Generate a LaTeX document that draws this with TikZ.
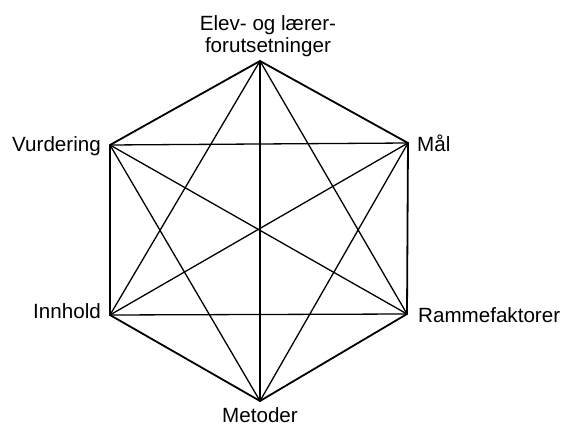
\documentclass[tikz,border=0pt]{standalone}
\usepackage{fontspec}
\setmainfont{Liberation Sans}
\begin{document}
\begin{tikzpicture}[x=1pt,y=-1pt,
  lbl/.style={inner sep=0pt,font=\fontsize{20.6}{22}\selectfont},
  rim/.style={line width=1.8pt,line join=miter},
  diag/.style={line width=1.3pt}]
\useasboundingbox (0,0) rectangle (563,425);
\coordinate (v1) at (260,61);
\coordinate (v2) at (408,143);
\coordinate (v3) at (407,314);
\coordinate (v4) at (260,401);
\coordinate (v5) at (110,315);
\coordinate (v6) at (110,145);
\draw[rim] (v1) -- (v2) -- (v3) -- (v4) -- (v5) -- (v6) -- cycle;
\foreach \a/\b in {v1/v3,v1/v4,v1/v5,v2/v4,v2/v5,v2/v6,v3/v5,v3/v6,v4/v6}
  \draw[diag] (\a) -- (\b);
\node[lbl,anchor=base,align=center] (top) at (268,53) {Elev- og lærer-\\forutsetninger};
\node[lbl,anchor=base east] (vur) at (101,152) {Vurdering};
\node[lbl,anchor=base west] (maal) at (417,152) {Mål};
\node[lbl,anchor=base east] (inn) at (101,319) {Innhold};
\node[lbl,anchor=base west] (ram) at (418,323) {Rammefaktorer};
\node[lbl,anchor=base] (met) at (260,422) {Metoder};
\end{tikzpicture}
\end{document}
